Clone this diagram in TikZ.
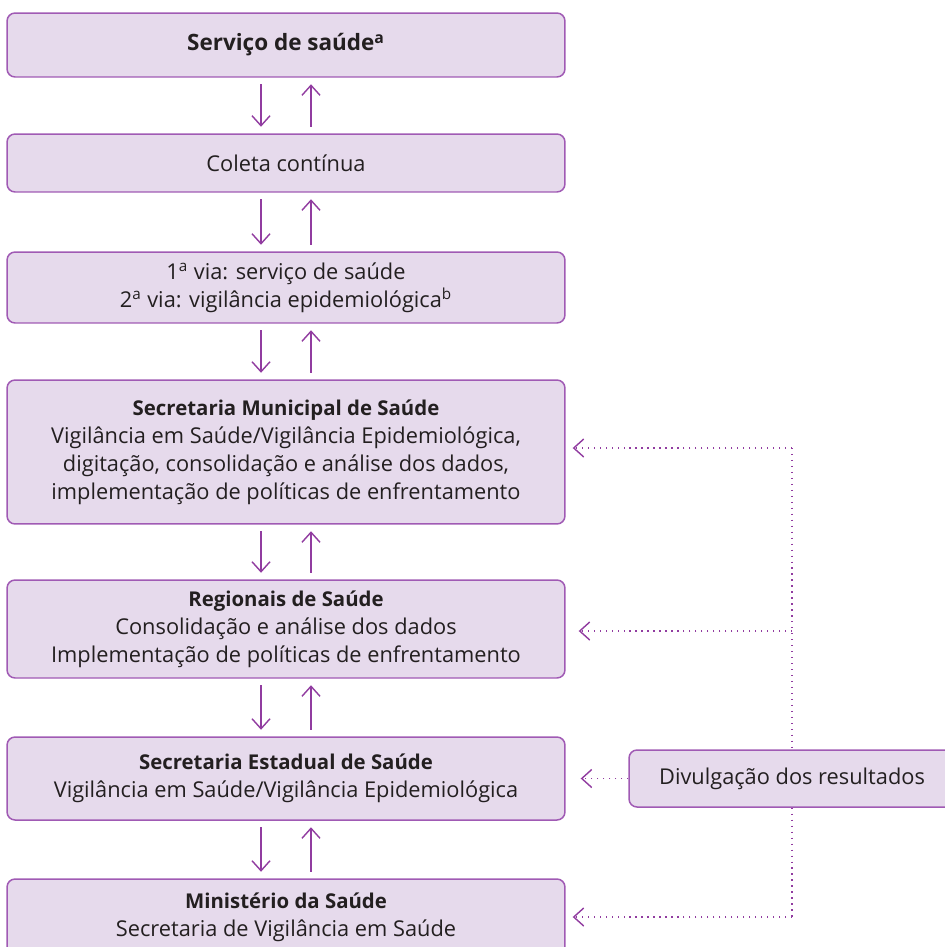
\documentclass[tikz,border=0pt]{standalone}
\usepackage{fontspec}
\setmainfont{Open Sans}
\usetikzlibrary{arrows.meta}
\definecolor{boxfill}{RGB}{230,218,236}
\definecolor{boxline}{RGB}{160,90,180}
\definecolor{linkcol}{RGB}{145,60,160}
\definecolor{txt}{RGB}{35,31,32}
\newcommand{\cab}[1]{{\fontsize{11.6}{16}\selectfont\bfseries #1}}

\begin{document}
\begin{tikzpicture}[x=0.02cm,y=-0.02cm,
  every node/.style={text=txt,font=\fontsize{12.4}{16}\selectfont},
  etapa/.style={draw=boxline,fill=boxfill,line width=0.85pt,rounded corners=0.16cm,
    minimum width=11.16cm,align=center,inner sep=0pt},
  fluxo/.style={draw=linkcol,line width=0.8pt,shorten <=0.13cm,shorten >=0.13cm,
    -{Straight Barb[length=0.2cm,width=0.36cm]}},
  retorno/.style={draw=linkcol,line width=0.7pt,dash pattern=on 0.7pt off 2.7pt,
    -{Straight Barb[length=0.2cm,width=0.36cm,line width=0.8pt]}}]
\useasboundingbox (0,0) rectangle (945,947);
\node[etapa,minimum height=1.28cm,font=\fontsize{12.8}{18}\selectfont\bfseries] (S1) at (286,45) {Serviço de saúde\textsuperscript{a}};
\node[etapa,minimum height=1.16cm] (S2) at (286,163) {Coleta contínua};
\node[etapa,minimum height=1.42cm] (S3) at (286,287.5) {1\textsuperscript{a} via: serviço de saúde\\2\textsuperscript{a} via: vigilância epidemiológica\textsuperscript{b}};
\node[etapa,minimum height=2.88cm] (S4) at (286,452) {\cab{Secretaria Municipal de Saúde}\\Vigilância em Saúde/Vigilância Epidemiológica,\\digitação, consolidação e análise dos dados,\\implementação de políticas de enfrentamento};
\node[etapa,minimum height=1.96cm] (S5) at (286,629) {\cab{Regionais de Saúde}\\Consolidação e análise dos dados\\Implementação de políticas de enfrentamento};
\node[etapa,minimum height=1.66cm] (S6) at (286,778.5) {\cab{Secretaria Estadual de Saúde}\\Vigilância em Saúde/Vigilância Epidemiológica};
\node[etapa,minimum height=1.52cm] (S7) at (286,917) {\cab{Ministério da Saúde}\\Secretaria de Vigilância em Saúde};
\node[etapa,minimum width=6.52cm,minimum height=1.14cm] (D) at (792,778.5) {Divulgação dos resultados};
\coordinate (J1) at (792,448);
\coordinate (J2) at (792,631);
\coordinate (J3) at (792,917);
\draw[fluxo] ([xshift=-0.5cm]S1.south) -- ([xshift=-0.5cm]S2.north);
\draw[fluxo] ([xshift=0.5cm]S2.north) -- ([xshift=0.5cm]S1.south);
\draw[fluxo] ([xshift=-0.5cm]S2.south) -- ([xshift=-0.5cm]S3.north);
\draw[fluxo] ([xshift=0.5cm]S3.north) -- ([xshift=0.5cm]S2.south);
\draw[fluxo] ([xshift=-0.5cm]S3.south) -- ([xshift=-0.5cm]S4.north);
\draw[fluxo] ([xshift=0.5cm]S4.north) -- ([xshift=0.5cm]S3.south);
\draw[fluxo] ([xshift=-0.5cm]S4.south) -- ([xshift=-0.5cm]S5.north);
\draw[fluxo] ([xshift=0.5cm]S5.north) -- ([xshift=0.5cm]S4.south);
\draw[fluxo] ([xshift=-0.5cm]S5.south) -- ([xshift=-0.5cm]S6.north);
\draw[fluxo] ([xshift=0.5cm]S6.north) -- ([xshift=0.5cm]S5.south);
\draw[fluxo] ([xshift=-0.5cm]S6.south) -- ([xshift=-0.5cm]S7.north);
\draw[fluxo] ([xshift=0.5cm]S7.north) -- ([xshift=0.5cm]S6.south);
\draw[retorno,-] (J1) -- (D.north);
\draw[retorno,-] (D.south) -- (J3);
\draw[retorno,shorten >=0.14cm] (J1) -- (J1 -| S4.east);
\draw[retorno,shorten >=0.26cm] (J2) -- (J2 -| S5.east);
\draw[retorno,shorten >=0.3cm] (D.west) -- (D.west -| S6.east);
\draw[retorno,shorten >=0.14cm] (J3) -- (J3 -| S7.east);
\end{tikzpicture}
\end{document}
